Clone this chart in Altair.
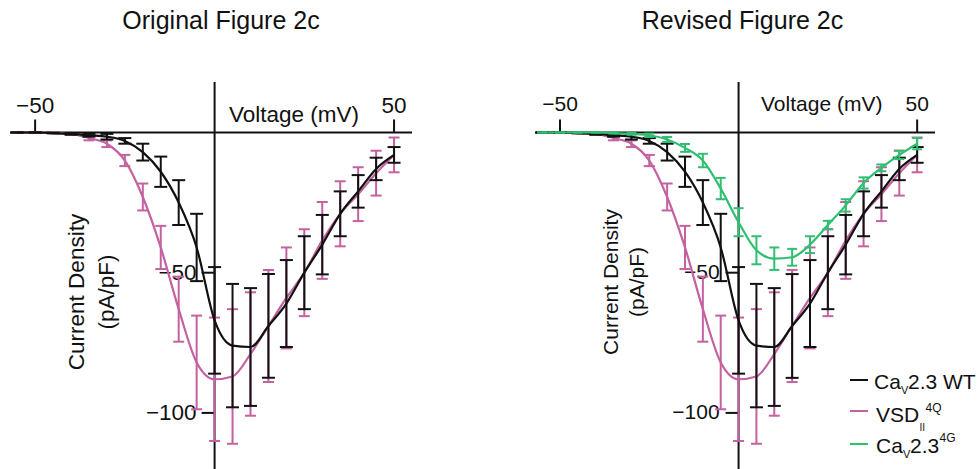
import altair as alt
import pandas as pd

# ---------------- data ----------------
VOLTAGE = [-55, -50, -45, -40, -35, -30, -25, -20, -15, -10, -5, 0,
           5, 10, 15, 20, 25, 30, 35, 40, 45, 50]

WT_MEAN = [0.0, 0.0, -0.2, -0.5, -1.0, -1.5, -3.0, -7.0, -14.0, -25.0, -41.0, -67.0,
           -76.0, -76.5, -69.0, -61.0, -50.0, -40.0, -29.0, -21.0, -13.0, -8.0]
WT_SEM = [0.0, 0.0, 0.1, 0.3, 0.5, 1.0, 1.0, 3.0, 5.4, 8.0, 12.0, 19.0,
          22.0, 21.0, 18.5, 15.5, 13.0, 10.6, 8.0, 5.8, 4.0, 2.8]

VSD_MEAN = [0.0, 0.0, -0.2, -0.5, -2.0, -4.0, -10.0, -23.0, -41.0, -63.0, -82.0, -88.0,
            -87.0, -79.0, -69.0, -59.0, -50.0, -38.5, -29.0, -22.0, -14.5, -8.0]
VSD_SEM = [0.0, 0.0, 0.1, 0.3, 0.8, 1.2, 2.0, 4.8, 7.7, 11.6, 16.7, 22.0,
           24.0, 22.0, 20.0, 18.0, 15.5, 13.7, 11.6, 9.6, 8.0, 6.2]

G4_MEAN = [0.0, 0.0, 0.0, 0.0, -0.2, -0.5, -1.0, -2.5, -5.5, -10.0, -20.0, -32.0,
           -42.0, -45.0, -44.5, -40.0, -33.0, -26.0, -18.0, -12.6, -8.0, -4.0]
G4_SEM = [0.0, 0.0, 0.0, 0.0, 0.2, 0.3, 0.6, 0.9, 1.4, 2.4, 3.8, 5.0,
          5.0, 4.0, 3.0, 3.0, 1.5, 2.2, 2.0, 1.2, 1.5, 2.0]

X_TICKS = [-50, 50]
Y_TICKS = [-50, -100]
X_DOMAIN = [-57, 55]
Y_DOMAIN = [-120, 18]

TITLES = ["Original Figure 2c", "Revised Figure 2c"]
X_TITLE = "Voltage (mV)"
Y_TITLE = ["Current Density", "(pA/pF)"]

# ---------------- styles ----------------
FONT = "Liberation Sans"
BLACK = "#111111"
PINK = "#c4619f"
GREEN = "#2fbf71"

xs = alt.Scale(domain=X_DOMAIN, nice=False, zero=False)
ys = alt.Scale(domain=Y_DOMAIN, nice=False, zero=False)
ONE = alt.Data(values=[{"a": 1}])


def X(f):
    return alt.X(f, type="quantitative", scale=xs, axis=None)


def Y(f):
    return alt.Y(f, type="quantitative", scale=ys, axis=None)


def fmt(v):
    return str(v).replace("-", "\u2212")


def series_df(mean, sem):
    return pd.DataFrame({
        "v": VOLTAGE,
        "i": mean,
        "lo": [m - s for m, s in zip(mean, sem)],
        "hi": [m + s for m, s in zip(mean, sem)],
    })


def series_layers(mean, sem, color, cap):
    df = series_df(mean, sem)
    base = alt.Chart(df)
    bars = base.mark_rule(color=color, strokeWidth=2).encode(
        x=X("v"), y=Y("lo"), y2=alt.Y2("hi"))
    lo = base.mark_tick(orient="horizontal", size=cap, thickness=2,
                        color=color, opacity=1).encode(x=X("v"), y=Y("lo"))
    hi = base.mark_tick(orient="horizontal", size=cap, thickness=2,
                        color=color, opacity=1).encode(x=X("v"), y=Y("hi"))
    line = base.mark_line(color=color, strokeWidth=2.2,
                          interpolate="monotone").encode(x=X("v"), y=Y("i"))
    return [bars, lo, hi, line]


def label(text, x, y, size, align="center", baseline="alphabetic", angle=0):
    return alt.Chart(ONE).mark_text(
        text=text, font=FONT, fontSize=size, align=align,
        baseline=baseline, angle=angle, color=BLACK
    ).encode(x=alt.value(x), y=alt.value(y))


def axis_layers(fs, xdy, ydx):
    adf = pd.DataFrame({"x0": [X_DOMAIN[0]], "x1": [X_DOMAIN[1]],
                        "y0": [Y_DOMAIN[0]], "y1": [Y_DOMAIN[1]], "z": [0]})
    xaxis = alt.Chart(adf).mark_rule(color=BLACK, strokeWidth=2).encode(
        x=X("x0"), x2=alt.X2("x1"), y=Y("z"))
    yaxis = alt.Chart(adf).mark_rule(color=BLACK, strokeWidth=2).encode(
        x=X("z"), y=Y("y0"), y2=alt.Y2("y1"))
    xt = pd.DataFrame({"t": X_TICKS, "z": [0] * len(X_TICKS),
                       "lab": [fmt(t) for t in X_TICKS]})
    yt = pd.DataFrame({"t": Y_TICKS, "z": [0] * len(Y_TICKS),
                       "lab": [fmt(t) for t in Y_TICKS]})
    xtick = alt.Chart(xt).mark_rule(color=BLACK, strokeWidth=2, y2Offset=-13).encode(
        x=X("t"), y=Y("z"), y2=alt.Y2("z"))
    ytick = alt.Chart(yt).mark_rule(color=BLACK, strokeWidth=2, x2Offset=-13).encode(
        y=Y("t"), x=X("z"), x2=alt.X2("z"))
    xlab = alt.Chart(xt).mark_text(font=FONT, fontSize=fs, dy=xdy, baseline="alphabetic",
                                   align="center", color=BLACK).encode(
        x=X("t"), y=Y("z"), text="lab:N")
    ylab = alt.Chart(yt).mark_text(font=FONT, fontSize=fs, dx=ydx, baseline="middle",
                                   align="right", color=BLACK).encode(
        x=X("z"), y=Y("t"), text="lab:N")
    return [xaxis, yaxis, xtick, ytick, xlab, ylab]


# ---------------- left panel ----------------
pin = alt.Chart(ONE).mark_rect(opacity=0).encode(
    x=alt.value(-10), x2=alt.value(0), y=alt.value(-82), y2=alt.value(0))

left_layers = (
    [pin]
    + axis_layers(22.5, -19.5, -18)
    + series_layers(VSD_MEAN, VSD_SEM, PINK, 11)
    + series_layers(WT_MEAN, WT_SEM, BLACK, 13)
    + [
        label(TITLES[0], 211, -53, 25),
        label(X_TITLE, 284, 39.7, 22.5),
        label(Y_TITLE[0], 67, 210, 22.5, baseline="middle", angle=270),
        label(Y_TITLE[1], 97, 210, 22.5, baseline="middle", angle=270),
    ]
)
left = alt.layer(*left_layers).properties(width=402, height=387)

# ---------------- right panel ----------------
LEGEND_NAMES = ["CaV2.3 WT", "VSDII4Q", "CaV2.34G"]
LEGEND_COLORS = [BLACK, PINK, GREEN]


def legend_line(color, y):
    return alt.Chart(ONE).mark_rule(color=color, strokeWidth=2).encode(
        x=alt.value(315), x2=alt.value(333), y=alt.value(y))


legend = [
    legend_line(BLACK, 298),
    label("Ca", 339, 307, 21, align="left"),
    label("V", 366, 311.5, 11, align="left"),
    label("2.3 WT", 373, 307, 21, align="left"),
    legend_line(PINK, 329),
    label("VSD", 341, 340, 21, align="left"),
    label("II", 384.5, 349, 10, align="left"),
    label("4Q", 390.5, 330, 12, align="left"),
    legend_line(GREEN, 362),
    label("Ca", 341, 370.5, 21, align="left"),
    label("V", 368, 375.5, 11, align="left"),
    label("2.3", 375, 370.5, 21, align="left"),
    label("4G", 404.5, 360, 12, align="left"),
]

right_layers = (
    axis_layers(21, -21.8, -19)
    + series_layers(VSD_MEAN, VSD_SEM, PINK, 11)
    + series_layers(WT_MEAN, WT_SEM, BLACK, 13)
    + series_layers(G4_MEAN, G4_SEM, GREEN, 10)
    + [
        label(TITLES[1], 207.5, -53, 25),
        label(X_TITLE, 286.7, 28.7, 21),
        label(Y_TITLE[0], 77, 200, 21, baseline="middle", angle=270),
        label(Y_TITLE[1], 103, 200, 21, baseline="middle", angle=270),
    ]
    + legend
)
right = alt.layer(*right_layers).properties(width=400, height=387)

chart = (
    alt.hconcat(left, right, spacing=123, bounds="flush")
    .properties(padding=0, background="white")
    .configure_view(stroke=None)
)

chart.save("out.html", embed_options={"renderer": "svg", "actions": False})
